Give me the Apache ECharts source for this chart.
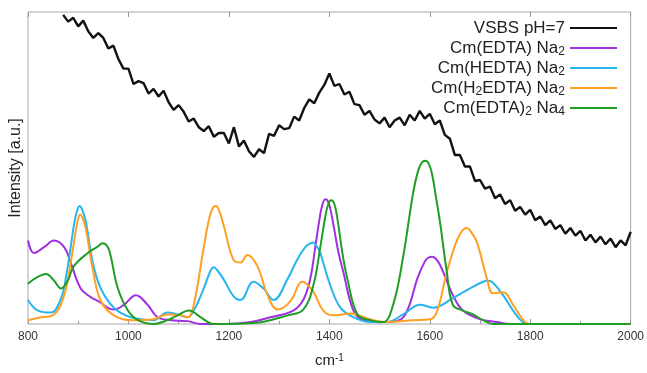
<!DOCTYPE html>
<html>
<head>
<meta charset="utf-8">
<script src="https://cdn.jsdelivr.net/npm/echarts@6/dist/echarts.min.js"></script>
<style>
html,body{margin:0;padding:0;background:#fff;}
#c{width:647px;height:373px;}
</style>
</head>
<body>
<div id="c"></div>
<script>
// ---- data (x in cm^-1, intensity in arbitrary units) ----
const X_TICKS = [800, 1000, 1200, 1400, 1600, 1800, 2000];
const SERIES_NAMES = ['VSBS pH=7', 'Cm(EDTA) Na2', 'Cm(HEDTA) Na2', 'Cm(H2EDTA) Na2', 'Cm(EDTA)2 Na4'];

const VSBS_X_START = 870;
const VSBS_X_STEP = 10;
const VSBS_Y = [322,315,319,310,316,305,298,303,298,287,290,276,266,266,250,253,251,240,245,237,
  243,231,223,228,221,211,214,205,201,206,195,199,199,188,205,185,191,180,174,182,
  178,198,196,207,203,204,216,212,225,234,230,241,249,261,248,250,239,242,229,228,
  218,222,213,209,215,205,212,215,207,218,212,222,214,219,208,212,197,193,176,176,
  164,164,149,150,141,143,131,135,125,129,118,122,114,119,108,112,103,108,99,103,
  94,100,92,97,87,93,85,91,83,89,80,87,82,96];

const EDTA = [[800,87],[812,74],[832,80],[852,87],[872,80],[885,64],[905,37],[925,28],[939,24],[971,15],[991,20],[1015,30],[1038,20],[1058,7],[1084,4],[1118,3],[1144,0],[1197,0],[1243,2],[1283,7],[1328,14],[1348,25],[1362,47],[1372,80],[1380,108],[1386,124],[1392,130],[1398,127],[1404,115],[1410,98],[1418,75],[1428,54],[1448,14],[1468,4],[1501,2],[1531,3],[1547,7],[1561,22],[1575,47],[1590,65],[1597,69],[1605,70],[1612,68],[1620,62],[1630,50],[1646,30],[1666,14],[1700,5],[1734,2],[1760,0],[2000,0]];

const HEDTA = [[800,25],[820,14],[846,12],[866,27],[876,50],[885,80],[893,108],[899,120],[903,123],[908,119],[915,107],[929,64],[945,37],[971,17],[1005,7],[1050,4],[1078,12],[1098,10],[1118,7],[1130,14],[1150,37],[1163,55],[1170,59],[1177,56],[1189,47],[1209,29],[1223,25],[1249,44],[1269,37],[1289,25],[1317,47],[1336,67],[1352,80],[1362,84],[1368,85],[1375,81],[1382,74],[1390,60],[1402,40],[1422,17],[1448,7],[1481,2],[1515,2],[1547,10],[1581,20],[1607,17],[1646,27],[1680,37],[1706,44],[1716,45],[1726,43],[1746,30],[1766,14],[1785,2],[1799,0],[2000,0]];

const H2EDTA = [[800,4],[826,7],[852,10],[872,30],[885,64],[893,90],[899,108],[904,114],[909,110],[915,100],[929,57],[945,24],[971,9],[1005,4],[1050,5],[1078,10],[1104,9],[1118,7],[1130,20],[1150,80],[1160,108],[1167,120],[1174,123],[1180,119],[1189,104],[1209,67],[1223,64],[1237,72],[1257,60],[1277,30],[1297,15],[1323,24],[1340,42],[1348,44],[1356,41],[1368,34],[1388,14],[1408,9],[1442,11],[1481,5],[1515,2],[1567,4],[1601,5],[1615,14],[1634,54],[1654,87],[1666,98],[1674,100],[1682,96],[1694,85],[1714,47],[1726,32],[1746,33],[1766,20],[1785,5],[1799,0],[2000,0]];

const EDTA2 = [[800,42],[816,48],[836,52],[852,45],[866,37],[879,45],[891,60],[919,74],[937,80],[949,84],[959,80],[965,70],[979,37],[999,14],[1019,4],[1050,0],[1078,4],[1098,9],[1120,14],[1144,7],[1170,0],[1249,1],[1317,9],[1348,15],[1368,40],[1382,80],[1392,112],[1398,125],[1404,129],[1410,125],[1416,110],[1426,74],[1436,47],[1456,10],[1481,4],[1507,2],[1527,20],[1547,70],[1567,137],[1577,160],[1584,168],[1591,170],[1598,167],[1605,155],[1613,130],[1621,104],[1634,54],[1646,20],[1666,14],[1686,10],[1706,4],[1726,0],[2000,0]];

// ---- build ----
const vsbsData = VSBS_Y.map((v, i) => [VSBS_X_START + i * VSBS_X_STEP, v]);
const COLORS = ['#111111', '#a22fe0', '#27b4ef', '#ffa024', '#1f9e24'];
const RICH_NAMES = {
  'VSBS pH=7': 'VSBS pH=7',
  'Cm(EDTA) Na2': 'Cm(EDTA) Na{s|2}',
  'Cm(HEDTA) Na2': 'Cm(HEDTA) Na{s|2}',
  'Cm(H2EDTA) Na2': 'Cm(H{s|2}EDTA) Na{s|2}',
  'Cm(EDTA)2 Na4': 'Cm(EDTA){s|2} Na{s|4}'
};
const datasets = [vsbsData, EDTA, HEDTA, H2EDTA, EDTA2];

const chart = echarts.init(document.getElementById('c'), null, {renderer: 'canvas'});
const FONT = 'Liberation Sans, Arial, sans-serif';

const series = SERIES_NAMES.map((name, i) => ({
  name: name,
  type: 'line',
  data: datasets[i],
  showSymbol: false,
  symbol: 'none',
  smooth: i === 0 ? false : 0.4,
  lineStyle: {color: COLORS[i], width: i === 0 ? 2.4 : 2},
  itemStyle: {color: COLORS[i]},
  z: i === 0 ? 3 : 2,
  animation: false
}));

chart.setOption({
  animation: false,
  backgroundColor: '#ffffff',
  grid: {left: 27, right: 16, top: 12, bottom: 36, show: true, borderColor: '#a8a8a8', borderWidth: 1},
  legend: {
    orient: 'vertical',
    right: 30,
    top: 18,
    align: 'right',
    icon: 'rect',
    itemWidth: 47,
    itemHeight: 2,
    itemGap: 0,
    padding: 0,
    selectedMode: false,
    data: SERIES_NAMES,
    formatter: n => RICH_NAMES[n],
    textStyle: {
      fontFamily: FONT, fontSize: 17, color: '#222', lineHeight: 20,
      rich: {s: {fontFamily: FONT, fontSize: 12, color: '#222', verticalAlign: 'bottom', lineHeight: 8}}
    }
  },
  xAxis: [{
    type: 'value', min: 800, max: 2000, interval: 200,
    axisLine: {show: false},
    splitLine: {show: false},
    axisTick: {show: true, inside: true, length: 5, lineStyle: {color: '#999'}},
    minorTick: {show: true, splitNumber: 2, length: 3, lineStyle: {color: '#999'}},
    axisLabel: {fontFamily: FONT, fontSize: 12, color: '#333', margin: 7,
      customValues: X_TICKS, formatter: v => String(v)},
    name: 'cm{sup|-1}',
    nameLocation: 'middle',
    nameGap: 29,
    nameTextStyle: {fontFamily: FONT, fontSize: 15, color: '#222',
      rich: {sup: {fontFamily: FONT, fontSize: 10, color: '#222', verticalAlign: 'top', lineHeight: 8}}}
  }, {
    type: 'value', min: 800, max: 2000, interval: 200, position: 'top',
    axisLine: {show: false}, splitLine: {show: false}, axisLabel: {show: false},
    axisTick: {show: true, inside: true, length: 5, lineStyle: {color: '#999'}}
  }],
  yAxis: {
    type: 'value', min: 0, max: 325,
    axisLine: {show: false}, axisTick: {show: false}, axisLabel: {show: false}, splitLine: {show: false},
    name: 'Intensity [a.u.]',
    nameLocation: 'middle',
    nameGap: 4,
    nameTextStyle: {fontFamily: FONT, fontSize: 16, color: '#222'}
  },
  series: series
});
</script>
</body>
</html>
